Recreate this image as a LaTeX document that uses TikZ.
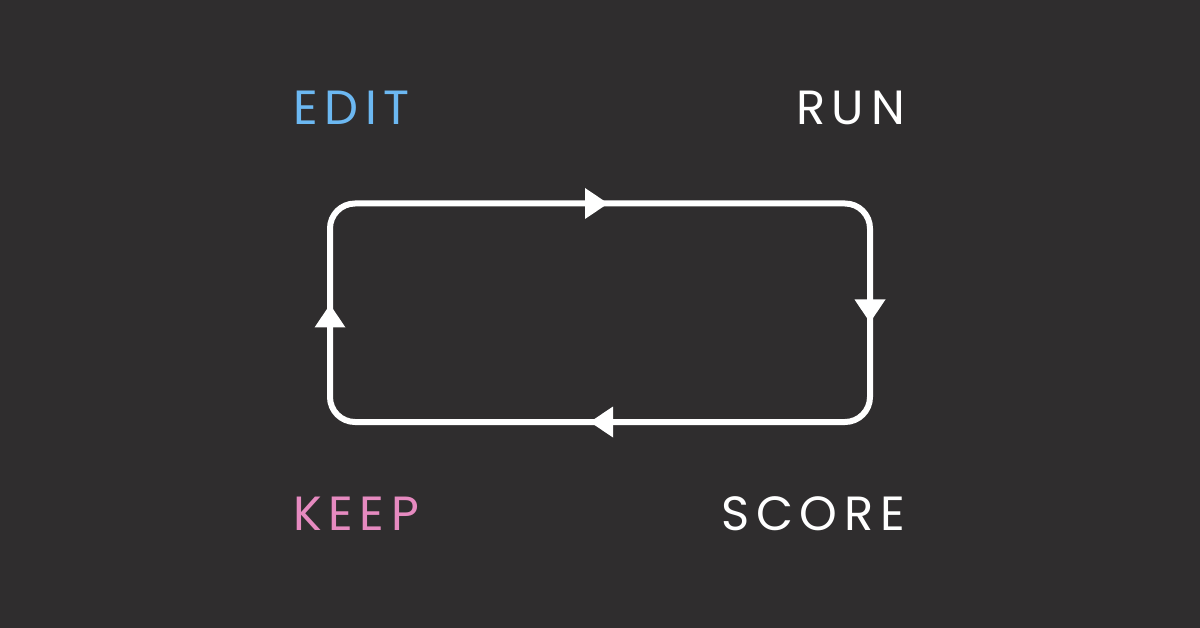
\documentclass[tikz,border=0pt]{standalone}
\usepackage{fontspec}
\setmainfont{Poppins}
\newfontfamily\lblfont[LetterSpace=14]{Poppins}
\definecolor{bg}{HTML}{2F2D2E}
\definecolor{editblue}{HTML}{6CB8F2}
\definecolor{keeppink}{HTML}{E68AC0}
\tikzset{
  lbl/.style={font=\lblfont\fontsize{48}{50}\selectfont, inner sep=0pt, text=white},
  loopline/.style={draw=white, line width=6pt, rounded corners=25pt},
  tri/.pic={\fill[white] (-12,-15.5) -- (11,0) -- (-12,15.5) -- cycle;}
}
\begin{document}
\begin{tikzpicture}[x=1pt,y=-1pt]
\fill[bg] (0,0) rectangle (1200,628);
\useasboundingbox (0,0) rectangle (1200,628);
\coordinate (tl) at (330,203.5);
\coordinate (tr) at (870,203.5);
\coordinate (br) at (870,422);
\coordinate (bl) at (330,422);
\draw[loopline] (tl) -- (tr) -- (br) -- (bl) -- cycle;
\pic at (597,203.5) {tri};
\pic[rotate=-90] at (870,311.5) {tri};
\pic[rotate=180] at (601,422) {tri};
\pic[rotate=90] at (330,315.5) {tri};
\node[lbl, text=editblue, anchor=base west] (edit) at (293,125) {EDIT};
\node[lbl, anchor=base east] (run) at (905,125) {RUN};
\node[lbl, text=keeppink, anchor=base west] (keep) at (293,530) {KEEP};
\node[lbl, anchor=base east] (score) at (905,530) {SCORE};
\end{tikzpicture}
\end{document}
